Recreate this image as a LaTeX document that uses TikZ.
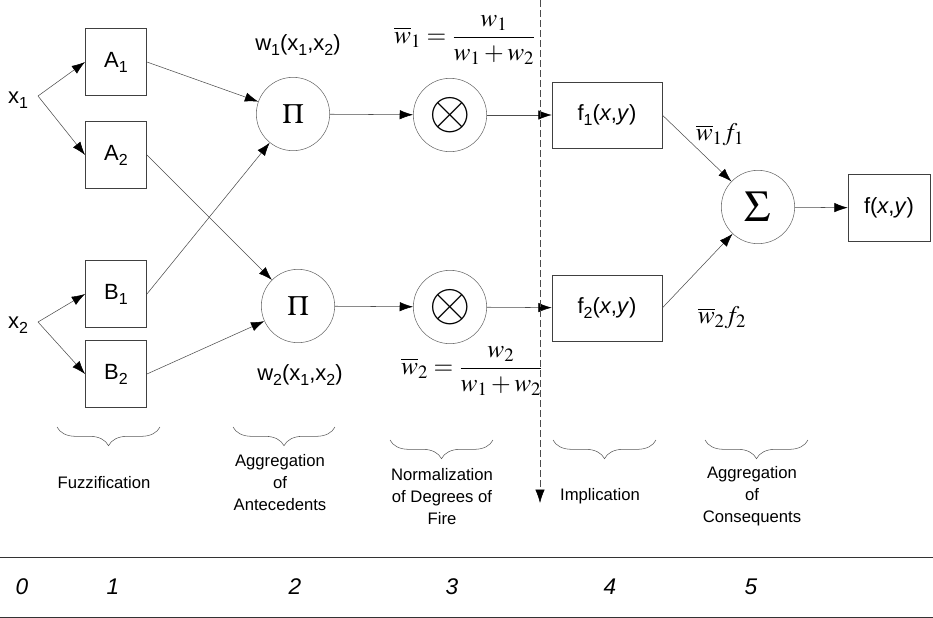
\documentclass[tikz,border=0pt]{standalone}
\usepackage{amsmath}
\usepackage{mathptmx}
\usepackage[no-math]{fontspec}
\setmainfont{Liberation Sans}
\usetikzlibrary{arrows.meta,positioning,decorations.pathreplacing}
\newcommand{\sbs}[1]{\raisebox{-0.42ex}{\fontsize{12}{12}\selectfont #1}}
\begin{document}
\begin{tikzpicture}[x=0.75pt, y=-0.75pt, font=\fontsize{16.5}{18}\selectfont,
    box/.style={rectangle, draw=black!75, thin, minimum width=46pt,
      minimum height=50pt, inner sep=0pt},
    fbox/.style={box, minimum width=82.5pt, minimum height=49.5pt},
    op/.style={circle, draw=black!60, thin, minimum size=55pt, inner sep=0pt},
    con/.style={-{Latex[length=10pt,width=7pt,black]}, black!70, thin},
    brc/.style={decorate, decoration={brace, mirror, amplitude=14pt},
      black!65, thin},
    lbl/.style={font=\fontsize{12.5}{16.5}\selectfont, align=center},
    frm/.style={font=\fontsize{19}{21}\selectfont},
    num/.style={font=\fontsize{17}{20}\selectfont\itshape}]
  \useasboundingbox (0,0) rectangle (933,618);
  \node (x1) at (18,100) {x\sbs{1}};
  \node (x2) at (18,325) {x\sbs{2}};
  \coordinate (j1) at (38,96);
  \coordinate (j2) at (38,322);
  \node[box] (A1) at (116,62) {A\sbs{1}};
  \node[box] (A2) at (116,155) {A\sbs{2}};
  \node[box] (B1) at (116,294) {B\sbs{1}};
  \node[box] (B2) at (116,374) {B\sbs{2}};
  \draw[con] (j1)--(A1.west); \draw[con] (j1)--(A2.west);
  \draw[con] (j2)--(B1.west); \draw[con] (j2)--(B2.west);
  \node[op] (P1) at (293,114) {\fontsize{21}{21}\selectfont$\Pi$};
  \node[op] (P2) at (298,306) {\fontsize{21}{21}\selectfont$\Pi$};
  \node (w1) at (298,45) {w\sbs{1}(x\sbs{1},x\sbs{2})};
  \node (w2) at (300,375) {w\sbs{2}(x\sbs{1},x\sbs{2})};
  \draw[con] (A1.east)--(P1); \draw[con] (A2.east)--(P2);
  \draw[con] (B1.east)--(P1); \draw[con] (B2.east)--(P2);
  \node[op] (N1) at (450,115) {\fontsize{40}{40}\selectfont$\otimes$};
  \node[op] (N2) at (450,307) {\fontsize{40}{40}\selectfont$\otimes$};
  \draw[con] (P1)--(N1); \draw[con] (P2)--(N2);
  \node[frm] (nw1) at (465,40)
    {$\overline{w}_1=\dfrac{w_1}{w_1+w_2}$};
  \node[frm] (nw2) at (472,371)
    {$\overline{w}_2=\dfrac{w_2}{w_1+w_2}$};
  \node[fbox] (F1) at (607,115) {f\sbs{1}(\textit{x},\textit{y})};
  \node[fbox] (F2) at (607,308) {f\sbs{2}(\textit{x},\textit{y})};
  \draw[con] (N1)--(F1); \draw[con] (N2)--(F2);
  \node[op] (S) at (758,207) {\fontsize{33}{33}\selectfont$\Sigma$};
  \node[box, minimum width=61.5pt] (F) at (889,208)
    {f(\textit{x},\textit{y})};
  \draw[con] (F1.east)--(S); \draw[con] (F2.east)--(S);
  \draw[con] (S)--(F);
  \node[frm] (p1) at (720,135) {$\overline{w}_1 f_1$};
  \node[frm] (p2) at (722,318) {$\overline{w}_2 f_2$};
  \coordinate (dtop) at (540,0);
  \coordinate (dbot) at (540,503);
  \draw[con, dash pattern=on 5pt off 2.5pt] (dtop)--(dbot);
  \draw[brc] (57,427)--(160,427);
  \draw[brc] (233,427)--(335,427);
  \draw[brc] (390,440)--(493,440);
  \draw[brc] (553,440)--(656,440);
  \draw[brc] (705,440)--(808,440);
  \node[lbl] (s1) at (104,483) {Fuzzification};
  \node[lbl] (s2) at (280,483) {Aggregation\\ of\\ Antecedents};
  \node[lbl] (s3) at (442,497) {Normalization\\ of Degrees of\\ Fire};
  \node[lbl] (s4) at (600,496) {Implication};
  \node[lbl] (s5) at (752,496) {Aggregation\\ of\\ Consequents};
  \draw[black!80, semithick] (0,557)--(933,557);
  \draw[black!80, semithick] (0,617)--(933,617);
  \node[num] (n0) at (22,587) {0};
  \node[num] (n1) at (113,587) {1};
  \node[num] (n2) at (295,587) {2};
  \node[num] (n3) at (452,587) {3};
  \node[num] (n4) at (610,587) {4};
  \node[num] (n5) at (751,587) {5};
\end{tikzpicture}
\end{document}
